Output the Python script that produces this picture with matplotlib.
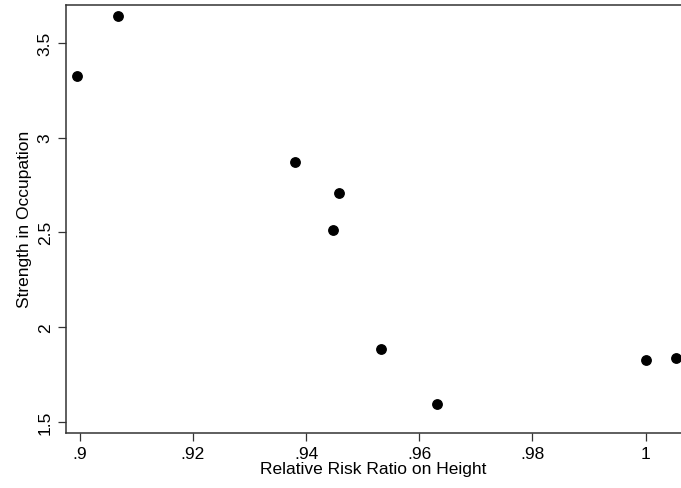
import matplotlib
matplotlib.use("Agg")
import matplotlib.pyplot as plt

rr_height = [0.8995, 0.9068, 0.9380, 0.9459, 0.9448, 0.9532, 0.9631, 1.0000, 1.0054]
strength = [3.326, 3.643, 2.870, 2.706, 2.512, 1.884, 1.593, 1.826, 1.834]

xticks = [0.90, 0.92, 0.94, 0.96, 0.98, 1.00]
xticklabels = [".9", ".92", ".94", ".96", ".98", "1"]
yticks = [1.5, 2.0, 2.5, 3.0, 3.5]
yticklabels = ["1.5", "2", "2.5", "3", "3.5"]

plt.rcParams['font.family'] = ['Liberation Sans', 'DejaVu Sans']

W, H = 681, 489
fig = plt.figure(figsize=(W/100, H/100), dpi=100)
left, right, top, bottom = 66, 681, 6, 433.5
ax = fig.add_axes([left/W, 1-bottom/H, (right-left)/W, (bottom-top)/H])

ax.scatter(rr_height, strength, s=46, color='black', zorder=3, clip_on=False)

ax.set_xlim(0.89758, 1.00624)
ax.set_ylim(1.443, 3.7006)
ax.set_xticks(xticks)
ax.set_xticklabels(xticklabels)
ax.set_yticks(yticks)
ax.set_yticklabels(yticklabels, rotation=90, va='center')

ax.spines['right'].set_visible(False)
for s in ['left', 'bottom', 'top']:
    ax.spines[s].set_color('#333333')
    ax.spines[s].set_linewidth(1.1)

ax.tick_params(axis='both', direction='out', length=5.5, width=0.9, color='#333333',
               labelsize=12.5, pad=4)
ax.set_xlabel("Relative Risk Ratio on Height", fontsize=12.5, labelpad=0)
ax.set_ylabel("Strength in Occupation", fontsize=12.5, labelpad=4)

fig.savefig("out.png", dpi=100)
